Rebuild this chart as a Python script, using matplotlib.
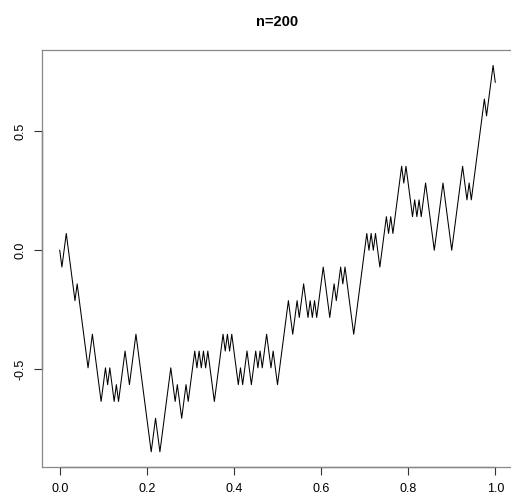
import numpy as np
import matplotlib
matplotlib.use("Agg")
import matplotlib.pyplot as plt

# random walk: step index and walk height (in steps) at every turning point
n = 200
indices = [0, 1, 3, 7, 8, 13, 15, 19, 21, 22, 23, 25, 26, 27, 30, 32, 35, 42, 44, 46,
           51, 53, 54, 56, 58, 59, 62, 63, 64, 65, 66, 67, 68, 71, 75, 76, 77, 78, 79,
           82, 83, 84, 86, 88, 90, 91, 92, 93, 95, 97, 98, 100, 105, 107, 109, 110,
           112, 114, 115, 116, 117, 118, 121, 124, 126, 127, 129, 130, 131, 135, 141,
           142, 143, 144, 145, 147, 150, 151, 152, 153, 157, 158, 159, 162, 163, 164,
           165, 166, 168, 172, 176, 180, 185, 187, 188, 189, 195, 196, 199, 200]
heights = [0, -1, 1, -3, -2, -7, -5, -9, -7, -8, -7, -9, -8, -9, -6, -8, -5, -12, -10, -12,
           -7, -9, -8, -10, -8, -9, -6, -7, -6, -7, -6, -7, -6, -9, -5, -6, -5, -6, -5,
           -8, -7, -8, -6, -8, -6, -7, -6, -7, -5, -7, -6, -8, -3, -5, -3, -4,
           -2, -4, -3, -4, -3, -4, -1, -4, -2, -3, -1, -2, -1, -5, 1,
           0, 1, 0, 1, -1, 2, 1, 2, 1, 5, 4, 5, 2, 3, 2,
           3, 2, 4, 0, 4, 0, 5, 3, 4, 3, 9, 8, 11, 10]
xTicks = [0.0, 0.2, 0.4, 0.6, 0.8, 1.0]
yTicks = [-0.5, 0.0, 0.5]

x = np.array(indices) / n
y = np.array(heights) / np.sqrt(n)

plt.rcParams['font.family'] = ['Liberation Sans', 'DejaVu Sans']

fig = plt.figure(figsize=(5.11, 5.0), dpi=100)
ax = fig.add_axes([0.0828, 0.0654, 0.9205, 0.8346])
ax.plot(x, y, color='black', linewidth=0.75)

# R style 4% padding around the data
xPad = 0.04 * (x.max() - x.min())
yPad = 0.04 * (y.max() - y.min())
ax.set_xlim(x.min() - xPad, x.max() + xPad)
ax.set_ylim(y.min() - yPad, y.max() + yPad)

ax.set_xticks(xTicks)
ax.set_xticklabels([f"{t:.1f}" for t in xTicks])
ax.set_yticks(yTicks)
ax.set_yticklabels([f"{t:.1f}" for t in yTicks])
for lbl in ax.get_yticklabels():
    lbl.set_rotation(90)
    lbl.set_va('center')
ax.tick_params(direction='out', length=5.5, width=0.8, labelsize=9, pad=6, color='#333333')

for s in ax.spines.values():
    s.set_color('#888888')
    s.set_linewidth(0.9)
# the right edge of the box falls just outside the picture
ax.spines['right'].set_visible(False)

# axis lines between first and last tick, like R's axis()
ax.plot([xTicks[0], xTicks[-1]], [0, 0], transform=ax.get_xaxis_transform(),
        color='#333333', linewidth=0.9, clip_on=False)
ax.plot([0, 0], [yTicks[0], yTicks[-1]], transform=ax.get_yaxis_transform(),
        color='#333333', linewidth=0.9, clip_on=False)

ax.set_title("n=200", fontweight='bold', fontsize=10.5, pad=17)

fig.savefig("out.png", dpi=100)
